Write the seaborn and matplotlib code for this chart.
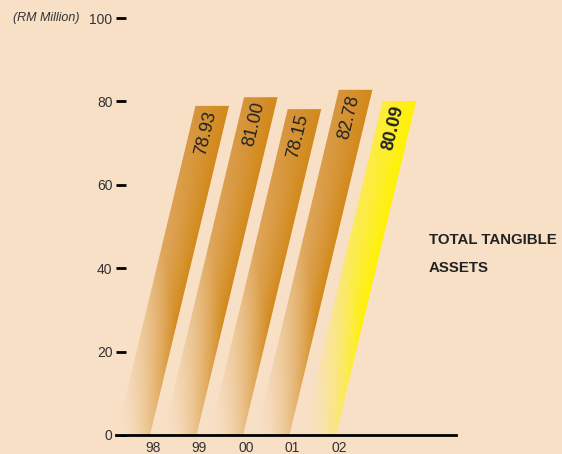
import numpy as np
import matplotlib
matplotlib.use("Agg")
import matplotlib.pyplot as plt
from matplotlib.patches import Polygon
from matplotlib.colors import to_rgb
import seaborn as sns
import pandas as pd

years = ["98", "99", "00", "01", "02"]
values = [78.93, 81.00, 78.15, 82.78, 80.09]
value_labels = ["78.93", "81.00", "78.15", "82.78", "80.09"]
y_ticks = [0, 20, 40, 60, 80, 100]

BG = "#f8e0c6"
sns.set_theme(style="white")
plt.rcParams["font.family"] = ["Liberation Sans", "DejaVu Sans"]

fig = plt.figure(figsize=(5.62, 4.54), dpi=100, facecolor=BG)
ax = fig.add_axes([116 / 562, 19 / 454, 340 / 562, 417 / 454])
ax.set_facecolor(BG)

df = pd.DataFrame({"year": years, "value": values})
sns.barplot(data=df, x="year", y="value", ax=ax, width=0.72, color="#d38a1a")

px_x = 46.5            # pixels per category unit
px_y = 417 / 100       # pixels per value unit
slant = 0.24           # horizontal px per vertical px
k = slant * px_y / px_x
bw = 33.5 / px_x
off = 3 / px_x
bg = np.array(to_rgb(BG))

schemes = [
    (("#ebc08a", "#d6943a"), "#d2891a"),
] * 4 + [(("#fbe68e", "#fded38"), "#fff200")]

for i, p in enumerate(list(ax.patches)):
    v = p.get_height()
    c = p.get_x() + p.get_width() / 2
    p.set_visible(False)
    br = c - off
    bl = br - bw
    poly = [(bl, 0), (br, 0), (br + v * k, v), (bl + v * k, v)]
    (l0, l1), dk = schemes[i]
    l0, l1, dk = map(lambda s: np.array(to_rgb(s)), (l0, l1, dk))
    nx, ny = 160, 300
    x0, x1 = bl, br + v * k
    xs = np.linspace(x0, x1, nx)
    ys = np.linspace(0, v, ny)
    X, Y = np.meshgrid(xs, ys)
    t = Y / v
    u = np.clip((X - (bl + Y * k)) / bw, 0, 1)
    light = l0[None, None, :] * (1 - t[..., None]) + l1[None, None, :] * t[..., None]
    col = light * (1 - u[..., None] ** 1.2) + dk[None, None, :] * (u[..., None] ** 1.2)
    a = np.clip(t * 1.9 + 0.45 * u - 0.08, 0, 1)
    rgb = col * a[..., None] + bg[None, None, :] * (1 - a[..., None])
    img = ax.imshow(rgb, extent=(x0, x1, 0, v), origin="lower", aspect="auto",
                    interpolation="bilinear", zorder=2)
    clip = Polygon(poly, closed=True, transform=ax.transData, facecolor="none", edgecolor="none")
    ax.add_patch(clip)
    img.set_clip_path(clip)
    ty = v - 27 / px_y
    tx = (bl + br) / 2 + ty * k
    ax.text(tx, ty, value_labels[i], rotation=np.degrees(np.arctan2(1, slant)),
            rotation_mode="anchor", ha="center", va="center", fontsize=13,
            color="#222222", fontweight="bold" if i == 4 else "normal", zorder=3)

ax.set_xlim((116 - 153) / px_x, (456 - 153) / px_x)
ax.set_ylim(0, 100)
ax.set_yticks(y_ticks)
ax.set_yticklabels([str(t) for t in y_ticks])
ax.set_xticks(range(len(years)))
ax.set_xticklabels(years)
ax.set_xlabel("")
ax.set_ylabel("")
for s in ["left", "right", "top"]:
    ax.spines[s].set_visible(False)
ax.spines["bottom"].set_color("black")
ax.spines["bottom"].set_linewidth(2)
ax.spines["bottom"].set_zorder(5)
ax.tick_params(axis="y", direction="in", length=7, width=2, pad=2.5,
               labelsize=10, labelcolor="#333333", color="black", left=True)
ax.tick_params(axis="x", length=0, pad=4, labelsize=10, labelcolor="#333333")
for lab in ax.get_xticklabels():
    lab.set_fontstretch("expanded")
ax.grid(False)

fig.text(13 / 562, 1 - 18 / 454, "(RM Million)", fontsize=9, style="italic",
         color="#333333", va="center", ha="left")
for j, line in enumerate(["TOTAL TANGIBLE", "ASSETS"]):
    fig.text(429 / 562, 1 - (240 + 28 * j) / 454, line, fontsize=10.8,
             fontweight="bold", color="#222222", va="center", ha="left")

fig.savefig("out.png", dpi=100, facecolor=BG)
